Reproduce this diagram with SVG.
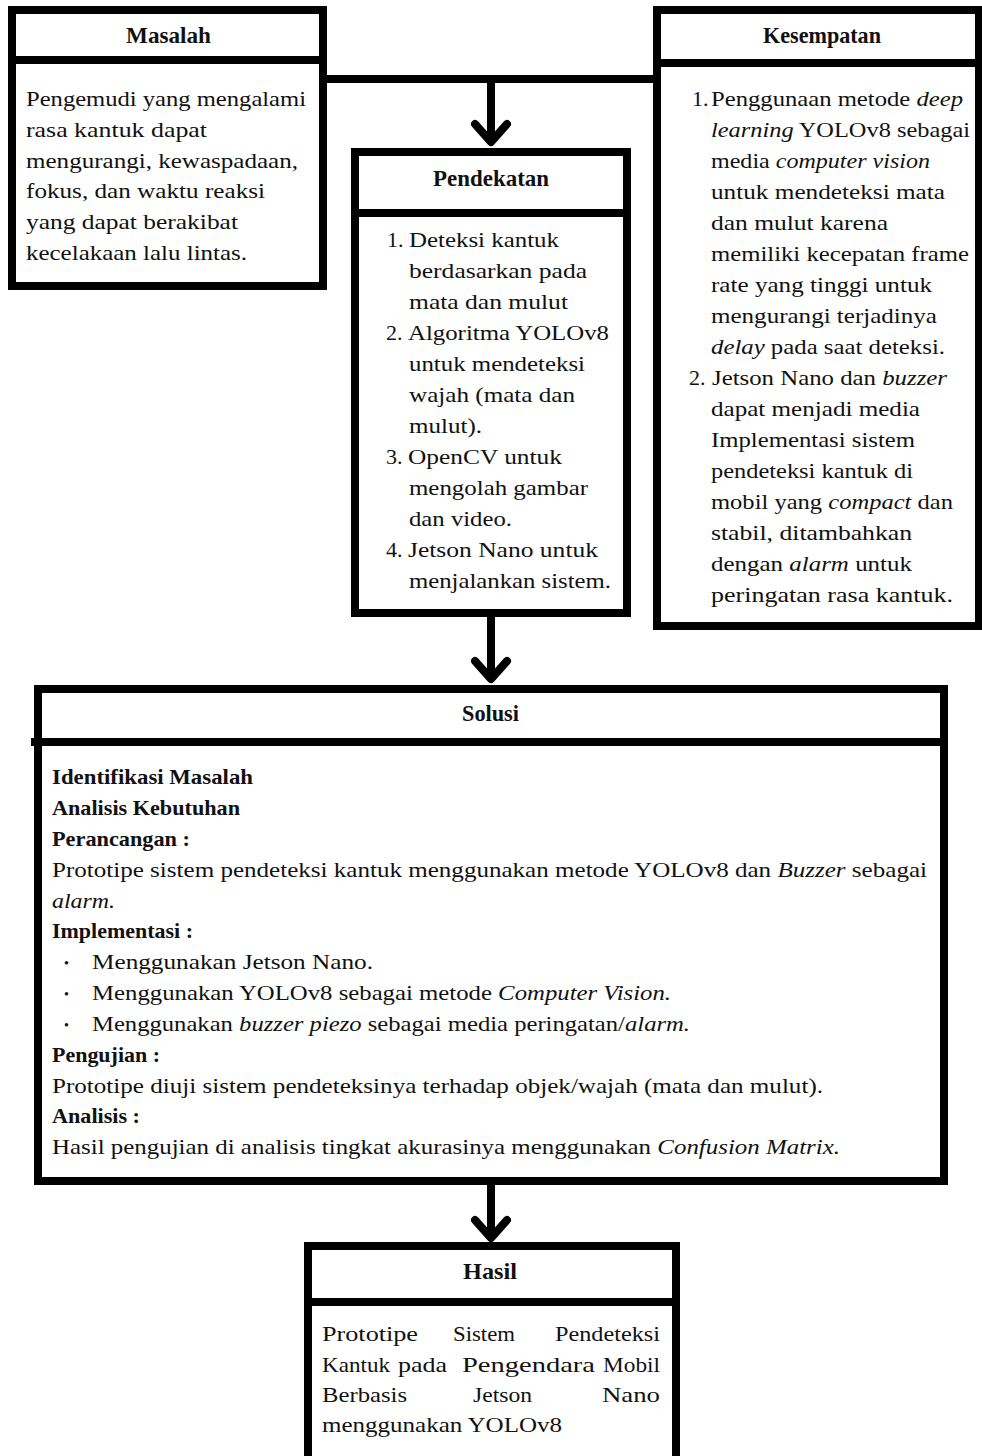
<svg xmlns="http://www.w3.org/2000/svg" width="982" height="1456" viewBox="0 0 982 1456">
<style>
.box{fill:#fff;stroke:#000;stroke-width:8}
.div{stroke:#000;stroke-width:8}
.t{font-family:"Liberation Serif","Times New Roman",serif;font-size:22px;fill:#111}
.b{font-family:"Liberation Serif","Times New Roman",serif;font-size:22px;font-weight:bold;fill:#111}
.h{font-family:"Liberation Serif","Times New Roman",serif;font-size:23px;font-weight:bold;fill:#111;text-anchor:middle}
.i{font-style:italic}
.bul{font-family:"Liberation Serif","Times New Roman",serif;font-size:14px;fill:#111}
.con{stroke:#000;stroke-width:8;fill:none}
</style>
<defs>
<marker id="chev" markerUnits="userSpaceOnUse" viewBox="-26 -22 32 44" refX="0" refY="0" markerWidth="32" markerHeight="44" orient="auto" overflow="visible">
<path d="M -18,-16 L 0,0 L -18,16" fill="none" stroke="#000" stroke-width="8" stroke-linecap="round" stroke-linejoin="round"/>
</marker>
</defs>
<rect width="982" height="1456" fill="#fff"/>

<g id="connectors">
<line class="con" x1="327" y1="79" x2="655" y2="79"/>
<line class="con" x1="491" y1="79" x2="491" y2="142" marker-end="url(#chev)"/>
<line class="con" x1="491" y1="617" x2="491" y2="679" marker-end="url(#chev)"/>
<line class="con" x1="491" y1="1185" x2="491" y2="1238" marker-end="url(#chev)"/>
</g>

<g id="masalah">
<rect class="box" x="12" y="10" width="311" height="276"/>
<line class="div" x1="12" y1="60" x2="323" y2="60"/>
<text class="h" x="168.5" y="43" textLength="85" lengthAdjust="spacingAndGlyphs">Masalah</text>
<text class="t" x="26" y="106" textLength="280" lengthAdjust="spacingAndGlyphs">Pengemudi yang mengalami</text>
<text class="t" x="26" y="137" textLength="181" lengthAdjust="spacingAndGlyphs">rasa kantuk dapat</text>
<text class="t" x="26" y="167.5" textLength="272" lengthAdjust="spacingAndGlyphs">mengurangi, kewaspadaan,</text>
<text class="t" x="26" y="198" textLength="239" lengthAdjust="spacingAndGlyphs">fokus, dan waktu reaksi</text>
<text class="t" x="26" y="229" textLength="212" lengthAdjust="spacingAndGlyphs">yang dapat berakibat</text>
<text class="t" x="26" y="259.5" textLength="221" lengthAdjust="spacingAndGlyphs">kecelakaan lalu lintas.</text>
</g>

<g id="kesempatan">
<rect class="box" x="657" y="10" width="322" height="616"/>
<line class="div" x1="657" y1="63" x2="979" y2="63"/>
<text class="h" x="822" y="43" textLength="118" lengthAdjust="spacingAndGlyphs">Kesempatan</text>
<text class="t" x="692" y="106">1.</text>
<text class="t" x="711" y="106" textLength="252" lengthAdjust="spacingAndGlyphs">Penggunaan metode <tspan class="i">deep</tspan></text>
<text class="t" x="711" y="137" textLength="259" lengthAdjust="spacingAndGlyphs"><tspan class="i">learning</tspan> YOLOv8 sebagai</text>
<text class="t" x="711" y="168" textLength="219" lengthAdjust="spacingAndGlyphs">media <tspan class="i">computer vision</tspan></text>
<text class="t" x="711" y="199" textLength="234" lengthAdjust="spacingAndGlyphs">untuk mendeteksi mata</text>
<text class="t" x="711" y="230" textLength="177" lengthAdjust="spacingAndGlyphs">dan mulut karena</text>
<text class="t" x="711" y="261" textLength="258" lengthAdjust="spacingAndGlyphs">memiliki kecepatan frame</text>
<text class="t" x="711" y="292" textLength="221" lengthAdjust="spacingAndGlyphs">rate yang tinggi untuk</text>
<text class="t" x="711" y="323" textLength="226" lengthAdjust="spacingAndGlyphs">mengurangi terjadinya</text>
<text class="t" x="711" y="354" textLength="234" lengthAdjust="spacingAndGlyphs"><tspan class="i">delay</tspan> pada saat deteksi.</text>
<text class="t" x="689" y="385">2.</text>
<text class="t" x="712" y="385" textLength="235" lengthAdjust="spacingAndGlyphs">Jetson Nano dan <tspan class="i">buzzer</tspan></text>
<text class="t" x="711" y="416" textLength="209" lengthAdjust="spacingAndGlyphs">dapat menjadi media</text>
<text class="t" x="711" y="447" textLength="204" lengthAdjust="spacingAndGlyphs">Implementasi sistem</text>
<text class="t" x="711" y="478" textLength="202" lengthAdjust="spacingAndGlyphs">pendeteksi kantuk di</text>
<text class="t" x="711" y="509" textLength="242" lengthAdjust="spacingAndGlyphs">mobil yang <tspan class="i">compact</tspan> dan</text>
<text class="t" x="711" y="540" textLength="201" lengthAdjust="spacingAndGlyphs">stabil, ditambahkan</text>
<text class="t" x="711" y="571" textLength="201" lengthAdjust="spacingAndGlyphs">dengan <tspan class="i">alarm</tspan> untuk</text>
<text class="t" x="711" y="602" textLength="242" lengthAdjust="spacingAndGlyphs">peringatan rasa kantuk.</text>
</g>

<g id="pendekatan">
<rect class="box" x="355" y="152" width="272" height="461"/>
<line class="div" x1="355" y1="213" x2="627" y2="213"/>
<text class="h" x="491" y="186" textLength="116" lengthAdjust="spacingAndGlyphs">Pendekatan</text>
<text class="t" x="387" y="247">1.</text>
<text class="t" x="409" y="247" textLength="150" lengthAdjust="spacingAndGlyphs">Deteksi kantuk</text>
<text class="t" x="409" y="278" textLength="178" lengthAdjust="spacingAndGlyphs">berdasarkan pada</text>
<text class="t" x="409" y="309" textLength="159" lengthAdjust="spacingAndGlyphs">mata dan mulut</text>
<text class="t" x="386" y="340">2.</text>
<text class="t" x="408" y="340" textLength="201" lengthAdjust="spacingAndGlyphs">Algoritma YOLOv8</text>
<text class="t" x="409" y="371" textLength="176" lengthAdjust="spacingAndGlyphs">untuk mendeteksi</text>
<text class="t" x="409" y="402" textLength="166" lengthAdjust="spacingAndGlyphs">wajah (mata dan</text>
<text class="t" x="409" y="433" textLength="73" lengthAdjust="spacingAndGlyphs">mulut).</text>
<text class="t" x="386" y="464">3.</text>
<text class="t" x="408" y="464" textLength="154" lengthAdjust="spacingAndGlyphs">OpenCV untuk</text>
<text class="t" x="409" y="495" textLength="179" lengthAdjust="spacingAndGlyphs">mengolah gambar</text>
<text class="t" x="409" y="526" textLength="103" lengthAdjust="spacingAndGlyphs">dan video.</text>
<text class="t" x="386" y="557">4.</text>
<text class="t" x="408" y="557" textLength="190" lengthAdjust="spacingAndGlyphs">Jetson Nano untuk</text>
<text class="t" x="409" y="588" textLength="202" lengthAdjust="spacingAndGlyphs">menjalankan sistem.</text>
</g>

<g id="solusi">
<rect class="box" x="38" y="689" width="906" height="492"/>
<line class="div" x1="31" y1="742" x2="944" y2="742"/>
<text class="h" x="490.5" y="721" textLength="57" lengthAdjust="spacingAndGlyphs">Solusi</text>
<text class="b" x="52" y="784" textLength="201" lengthAdjust="spacingAndGlyphs">Identifikasi Masalah</text>
<text class="b" x="52" y="815" textLength="188" lengthAdjust="spacingAndGlyphs">Analisis Kebutuhan</text>
<text class="b" x="52" y="846" textLength="138" lengthAdjust="spacingAndGlyphs">Perancangan :</text>
<text class="t" x="52" y="876.5" textLength="875" lengthAdjust="spacingAndGlyphs">Prototipe sistem pendeteksi kantuk menggunakan metode YOLOv8 dan <tspan class="i">Buzzer</tspan> sebagai</text>
<text class="t i" x="52" y="907.5" textLength="63" lengthAdjust="spacingAndGlyphs">alarm.</text>
<text class="b" x="52" y="938" textLength="141" lengthAdjust="spacingAndGlyphs">Implementasi :</text>
<text class="bul" x="64" y="968">•</text>
<text class="t" x="92" y="969" textLength="281" lengthAdjust="spacingAndGlyphs">Menggunakan Jetson Nano.</text>
<text class="bul" x="64" y="999">•</text>
<text class="t" x="92" y="1000" textLength="579" lengthAdjust="spacingAndGlyphs">Menggunakan YOLOv8 sebagai metode <tspan class="i">Computer Vision.</tspan></text>
<text class="bul" x="64" y="1030">•</text>
<text class="t" x="92" y="1031" textLength="598" lengthAdjust="spacingAndGlyphs">Menggunakan <tspan class="i">buzzer piezo</tspan> sebagai media peringatan/<tspan class="i">alarm.</tspan></text>
<text class="b" x="52" y="1061.5" textLength="108" lengthAdjust="spacingAndGlyphs">Pengujian :</text>
<text class="t" x="52" y="1092.5" textLength="771" lengthAdjust="spacingAndGlyphs">Prototipe diuji sistem pendeteksinya terhadap objek/wajah (mata dan mulut).</text>
<text class="b" x="52" y="1123" textLength="88" lengthAdjust="spacingAndGlyphs">Analisis :</text>
<text class="t" x="52" y="1153.5" textLength="788" lengthAdjust="spacingAndGlyphs">Hasil pengujian di analisis tingkat akurasinya menggunakan <tspan class="i">Confusion Matrix.</tspan></text>
</g>

<g id="hasil">
<rect class="box" x="308" y="1246" width="368" height="240"/>
<line class="div" x1="308" y1="1302" x2="676" y2="1302"/>
<text class="h" x="490" y="1279" textLength="54" lengthAdjust="spacingAndGlyphs">Hasil</text>
<text class="t" x="322" y="1341" textLength="96" lengthAdjust="spacingAndGlyphs">Prototipe</text>
<text class="t" x="453" y="1341" textLength="62" lengthAdjust="spacingAndGlyphs">Sistem</text>
<text class="t" x="555" y="1341" textLength="105" lengthAdjust="spacingAndGlyphs">Pendeteksi</text>
<text class="t" x="322" y="1371.5" textLength="68" lengthAdjust="spacingAndGlyphs">Kantuk</text>
<text class="t" x="398" y="1371.5" textLength="49" lengthAdjust="spacingAndGlyphs">pada</text>
<text class="t" x="462" y="1371.5" textLength="133" lengthAdjust="spacingAndGlyphs">Pengendara</text>
<text class="t" x="603" y="1371.5" textLength="57" lengthAdjust="spacingAndGlyphs">Mobil</text>
<text class="t" x="322" y="1402" textLength="85" lengthAdjust="spacingAndGlyphs">Berbasis</text>
<text class="t" x="473" y="1402" textLength="59" lengthAdjust="spacingAndGlyphs">Jetson</text>
<text class="t" x="602" y="1402" textLength="58" lengthAdjust="spacingAndGlyphs">Nano</text>
<text class="t" x="322" y="1432" textLength="240" lengthAdjust="spacingAndGlyphs">menggunakan YOLOv8</text>
</g>
</svg>
